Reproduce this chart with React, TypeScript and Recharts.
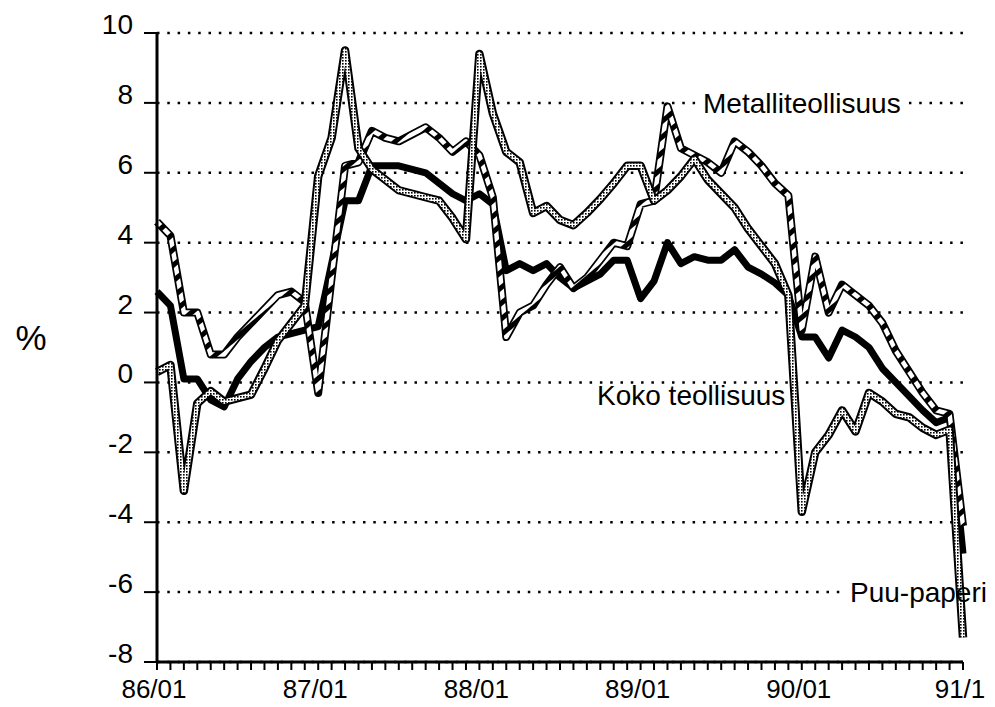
import React from 'react';
import { LineChart, Line, XAxis, YAxis, CartesianGrid } from 'recharts';

// monthly change, %, 86/01 .. 91/01
const koko = [
  2.6, 2.2, 0.1, 0.1, -0.5, -0.7, 0.1, 0.6, 1.0, 1.3, 1.4, 1.5,
  1.6, 3.4, 5.2, 5.2, 6.2, 6.2, 6.2, 6.1, 6.0, 5.7, 5.4, 5.2,
  5.4, 5.1, 3.2, 3.4, 3.2, 3.4, 3.0, 2.7, 2.9, 3.1, 3.5, 3.5,
  2.4, 2.9, 4.0, 3.4, 3.6, 3.5, 3.5, 3.8, 3.3, 3.1, 2.85, 2.5,
  1.3, 1.3, 0.7, 1.5, 1.3, 1.0, 0.4, 0.0, -0.4, -0.8, -1.15, -1.0,
  -4.9,
];
const metalli = [
  4.6, 4.2, 2.0, 2.0, 0.8, 0.8, 1.3, 1.7, 2.1, 2.5, 2.6, 2.3,
  -0.3, 3.0, 6.2, 6.3, 7.2, 7.0, 6.9, 7.1, 7.3, 7.0, 6.6, 6.9,
  6.5, 5.3, 1.3, 2.0, 2.2, 2.8, 3.3, 2.7, 3.0, 3.5, 4.0, 3.9,
  5.1, 5.2, 7.9, 6.7, 6.5, 6.3, 6.0, 6.9, 6.6, 6.2, 5.7, 5.35,
  1.5, 3.6, 2.0, 2.8, 2.5, 2.2, 1.7, 0.9, 0.3, -0.3, -0.8, -0.9,
  -4.1,
];
const puuPaperi = [
  0.3, 0.5, -3.1, -0.6, -0.25, -0.55, -0.45, -0.35, 0.4, 1.2, 1.7, 2.2,
  5.9, 7.0, 9.5, 6.7, 6.1, 5.8, 5.5, 5.4, 5.3, 5.2, 4.7, 4.1,
  9.4, 7.7, 6.6, 6.3, 4.85, 5.05, 4.65, 4.5, 4.85, 5.25, 5.7, 6.2,
  6.2, 5.2, 5.5, 5.9, 6.4, 5.8, 5.4, 5.0, 4.4, 3.9, 3.4, 2.5,
  -3.7, -2.0, -1.5, -0.8, -1.4, -0.3, -0.55, -0.9, -1.0, -1.3, -1.5, -1.35,
  -7.3,
];

const yearTicks = [0, 12, 24, 36, 48, 60];
const yearLabels = ['86/01', '87/01', '88/01', '89/01', '90/01', '91/1'];
const yTicks = [-8, -6, -4, -2, 0, 2, 4, 6, 8, 10];

const monthTicks = koko.map((_, i) => i);
const data = koko.map((v, i) => ({
  i,
  koko: v,
  metalli: metalli[i],
  puu: puuPaperi[i],
}));

const FONT = '"Liberation Sans", Arial, Helvetica, sans-serif';

function YTick(props: any) {
  const { x, y, payload } = props;
  return (
    <text x={x - 6} y={y + 1} textAnchor="end" fontSize={28} fontFamily={FONT} fill="#000">
      {String(payload.value)}
    </text>
  );
}

function XTick(props: any) {
  const { x, y, payload } = props;
  const k = yearTicks.indexOf(payload.value);
  if (k < 0) return <g />;
  return (
    <text x={x - 3} y={y + 26} textAnchor="middle" fontSize={26} fontFamily={FONT} fill="#000">
      {yearLabels[k]}
    </text>
  );
}

const common = {
  type: 'linear' as const,
  dot: false,
  activeDot: false,
  isAnimationActive: false,
  strokeLinejoin: 'round' as const,
  legendType: 'none' as const,
};

export default function App() {
  return (
    <div style={{ position: 'absolute', left: 0, top: 0, width: 995, height: 707, background: '#fff' }}>
      <svg width={0} height={0} style={{ position: 'absolute' }}>
        <defs>
          <pattern id="hatch" patternUnits="userSpaceOnUse" width="12" height="12" patternTransform="rotate(50)">
            <rect width="12" height="12" fill="#fff" />
            <rect width="5" height="12" fill="#000" />
          </pattern>
          <pattern id="stipple" patternUnits="userSpaceOnUse" width="3" height="3">
            <rect width="3" height="3" fill="#fff" />
            <rect width="1.6" height="1.6" fill="#000" />
          </pattern>
        </defs>
      </svg>
      <LineChart width={995} height={707} data={data} margin={{ top: 33, right: 32, bottom: 5, left: 0 }}>
        <CartesianGrid vertical={false} stroke="#000" strokeWidth={2.5} strokeDasharray="2.5 7.8" />
        <XAxis
          dataKey="i"
          type="number"
          domain={[0, 60]}
          ticks={monthTicks}
          interval={0}
          height={40}
          tickSize={8}
          tickMargin={2}
          axisLine={{ stroke: '#000', strokeWidth: 3 }}
          tickLine={{ stroke: '#000', strokeWidth: 2 }}
          tick={<XTick />}
        />
        <YAxis
          type="number"
          domain={[-8, 10]}
          ticks={yTicks}
          interval={0}
          width={157}
          tickSize={13}
          tickMargin={5}
          axisLine={{ stroke: '#000', strokeWidth: 3 }}
          tickLine={{ stroke: '#000', strokeWidth: 2 }}
          tick={<YTick />}
        />
        <Line {...common} dataKey="koko" name="Koko teollisuus" stroke="#000" strokeWidth={7} />
        <Line {...common} dataKey="metalli" name="Metalliteollisuus" stroke="#000" strokeWidth={8} />
        <Line {...common} dataKey="metalli" name="Metalliteollisuus hatch" stroke="url(#hatch)" strokeWidth={4.5} />
        <Line {...common} dataKey="puu" name="Puu-paperi" stroke="#000" strokeWidth={8.5} />
        <Line {...common} dataKey="puu" name="Puu-paperi stipple" stroke="url(#stipple)" strokeWidth={4.5} />
      </LineChart>
      <svg
        width={995}
        height={707}
        style={{ position: 'absolute', left: 0, top: 0, pointerEvents: 'none' }}
        fontFamily={FONT}
      >
        <text x={31} y={350} textAnchor="middle" fontSize={35} fill="#000">%</text>
        <rect x={699} y={91} width={210} height={26} fill="#fff" />
        <text x={703} y={113} fontSize={28} fill="#000">Metalliteollisuus</text>
        <text x={597} y={405} fontSize={28} fill="#000">Koko teollisuus</text>
        <rect x={846} y={580} width={107} height={26} fill="#fff" />
        <text x={850} y={602} fontSize={28} fill="#000">Puu-paperi</text>
      </svg>
    </div>
  );
}
